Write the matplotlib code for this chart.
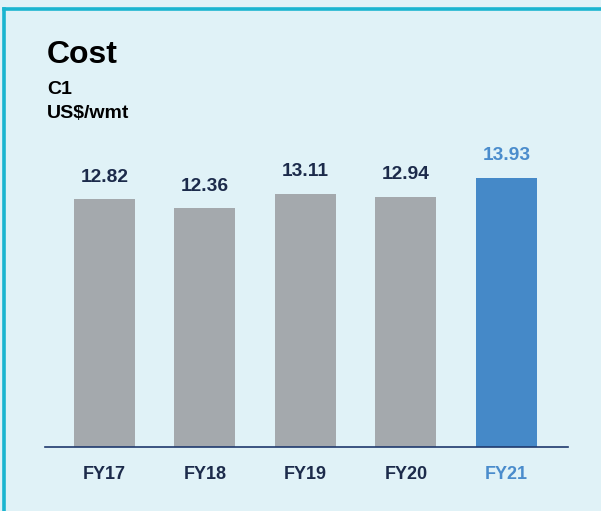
import matplotlib
matplotlib.use('Agg')
import matplotlib.pyplot as plt
from matplotlib.lines import Line2D

# data
years = ['FY17', 'FY18', 'FY19', 'FY20', 'FY21']
cost = [12.82, 12.36, 13.11, 12.94, 13.93]
value_labels = ['12.82', '12.36', '13.11', '12.94', '13.93']

bg = '#e0f2f7'
navy = '#1c2b4b'
gray = '#a4a9ad'
blue = '#4589c8'
bar_colors = [gray, gray, gray, gray, blue]
text_colors = [navy, navy, navy, navy, '#4a8ccc']

plt.rcParams['font.family'] = ['Liberation Sans', 'DejaVu Sans']

fig = plt.figure(figsize=(6.01, 5.11), dpi=100)
fig.patch.set_facecolor(bg)

# cyan frame (top and left edges only)
frame = '#1ab5d0'
fig.add_artist(Line2D([4 / 601, 1.0], [1 - 9.5 / 511, 1 - 9.5 / 511],
                      transform=fig.transFigure, color=frame, lw=2.6))
fig.add_artist(Line2D([4 / 601, 4 / 601], [0, 1 - 9.5 / 511],
                      transform=fig.transFigure, color=frame, lw=2.6))

ax = fig.add_axes([45 / 601, 64 / 511, 523 / 601, 290 / 511])
ax.set_facecolor(bg)
x = range(len(years))
ax.bar(x, cost, width=0.607, color=bar_colors)
ax.set_xlim(-0.592, 4.612)
ax.set_ylim(0, 15)

for i, v in enumerate(cost):
    ax.annotate(value_labels[i], (i, v), xytext=(0, 22), textcoords='offset pixels',
                ha='center', va='center', fontsize=13.8, fontweight='bold',
                color=text_colors[i])

for s in ['top', 'right', 'left']:
    ax.spines[s].set_visible(False)
ax.spines['bottom'].set_color('#1f3a6e')
ax.spines['bottom'].set_linewidth(1.2)
ax.set_yticks([])
ax.set_xticks(list(x))
ax.set_xticklabels(years, fontsize=13, fontweight='bold')
for lbl, c in zip(ax.get_xticklabels(), text_colors):
    lbl.set_color(c)
ax.tick_params(axis='x', length=0, pad=14)

fig.text(47 / 601, 1 - 55 / 511, 'Cost', fontsize=23, fontweight='bold',
         color='black', va='center', ha='left')
fig.text(47 / 601, 1 - 89 / 511, 'C1', fontsize=14, fontweight='bold',
         color='black', va='center', ha='left')
fig.text(47 / 601, 1 - 113 / 511, 'US$/wmt', fontsize=14, fontweight='bold',
         color='black', va='center', ha='left')

plt.savefig('out.png', dpi=100, facecolor=bg)
plt.close()
